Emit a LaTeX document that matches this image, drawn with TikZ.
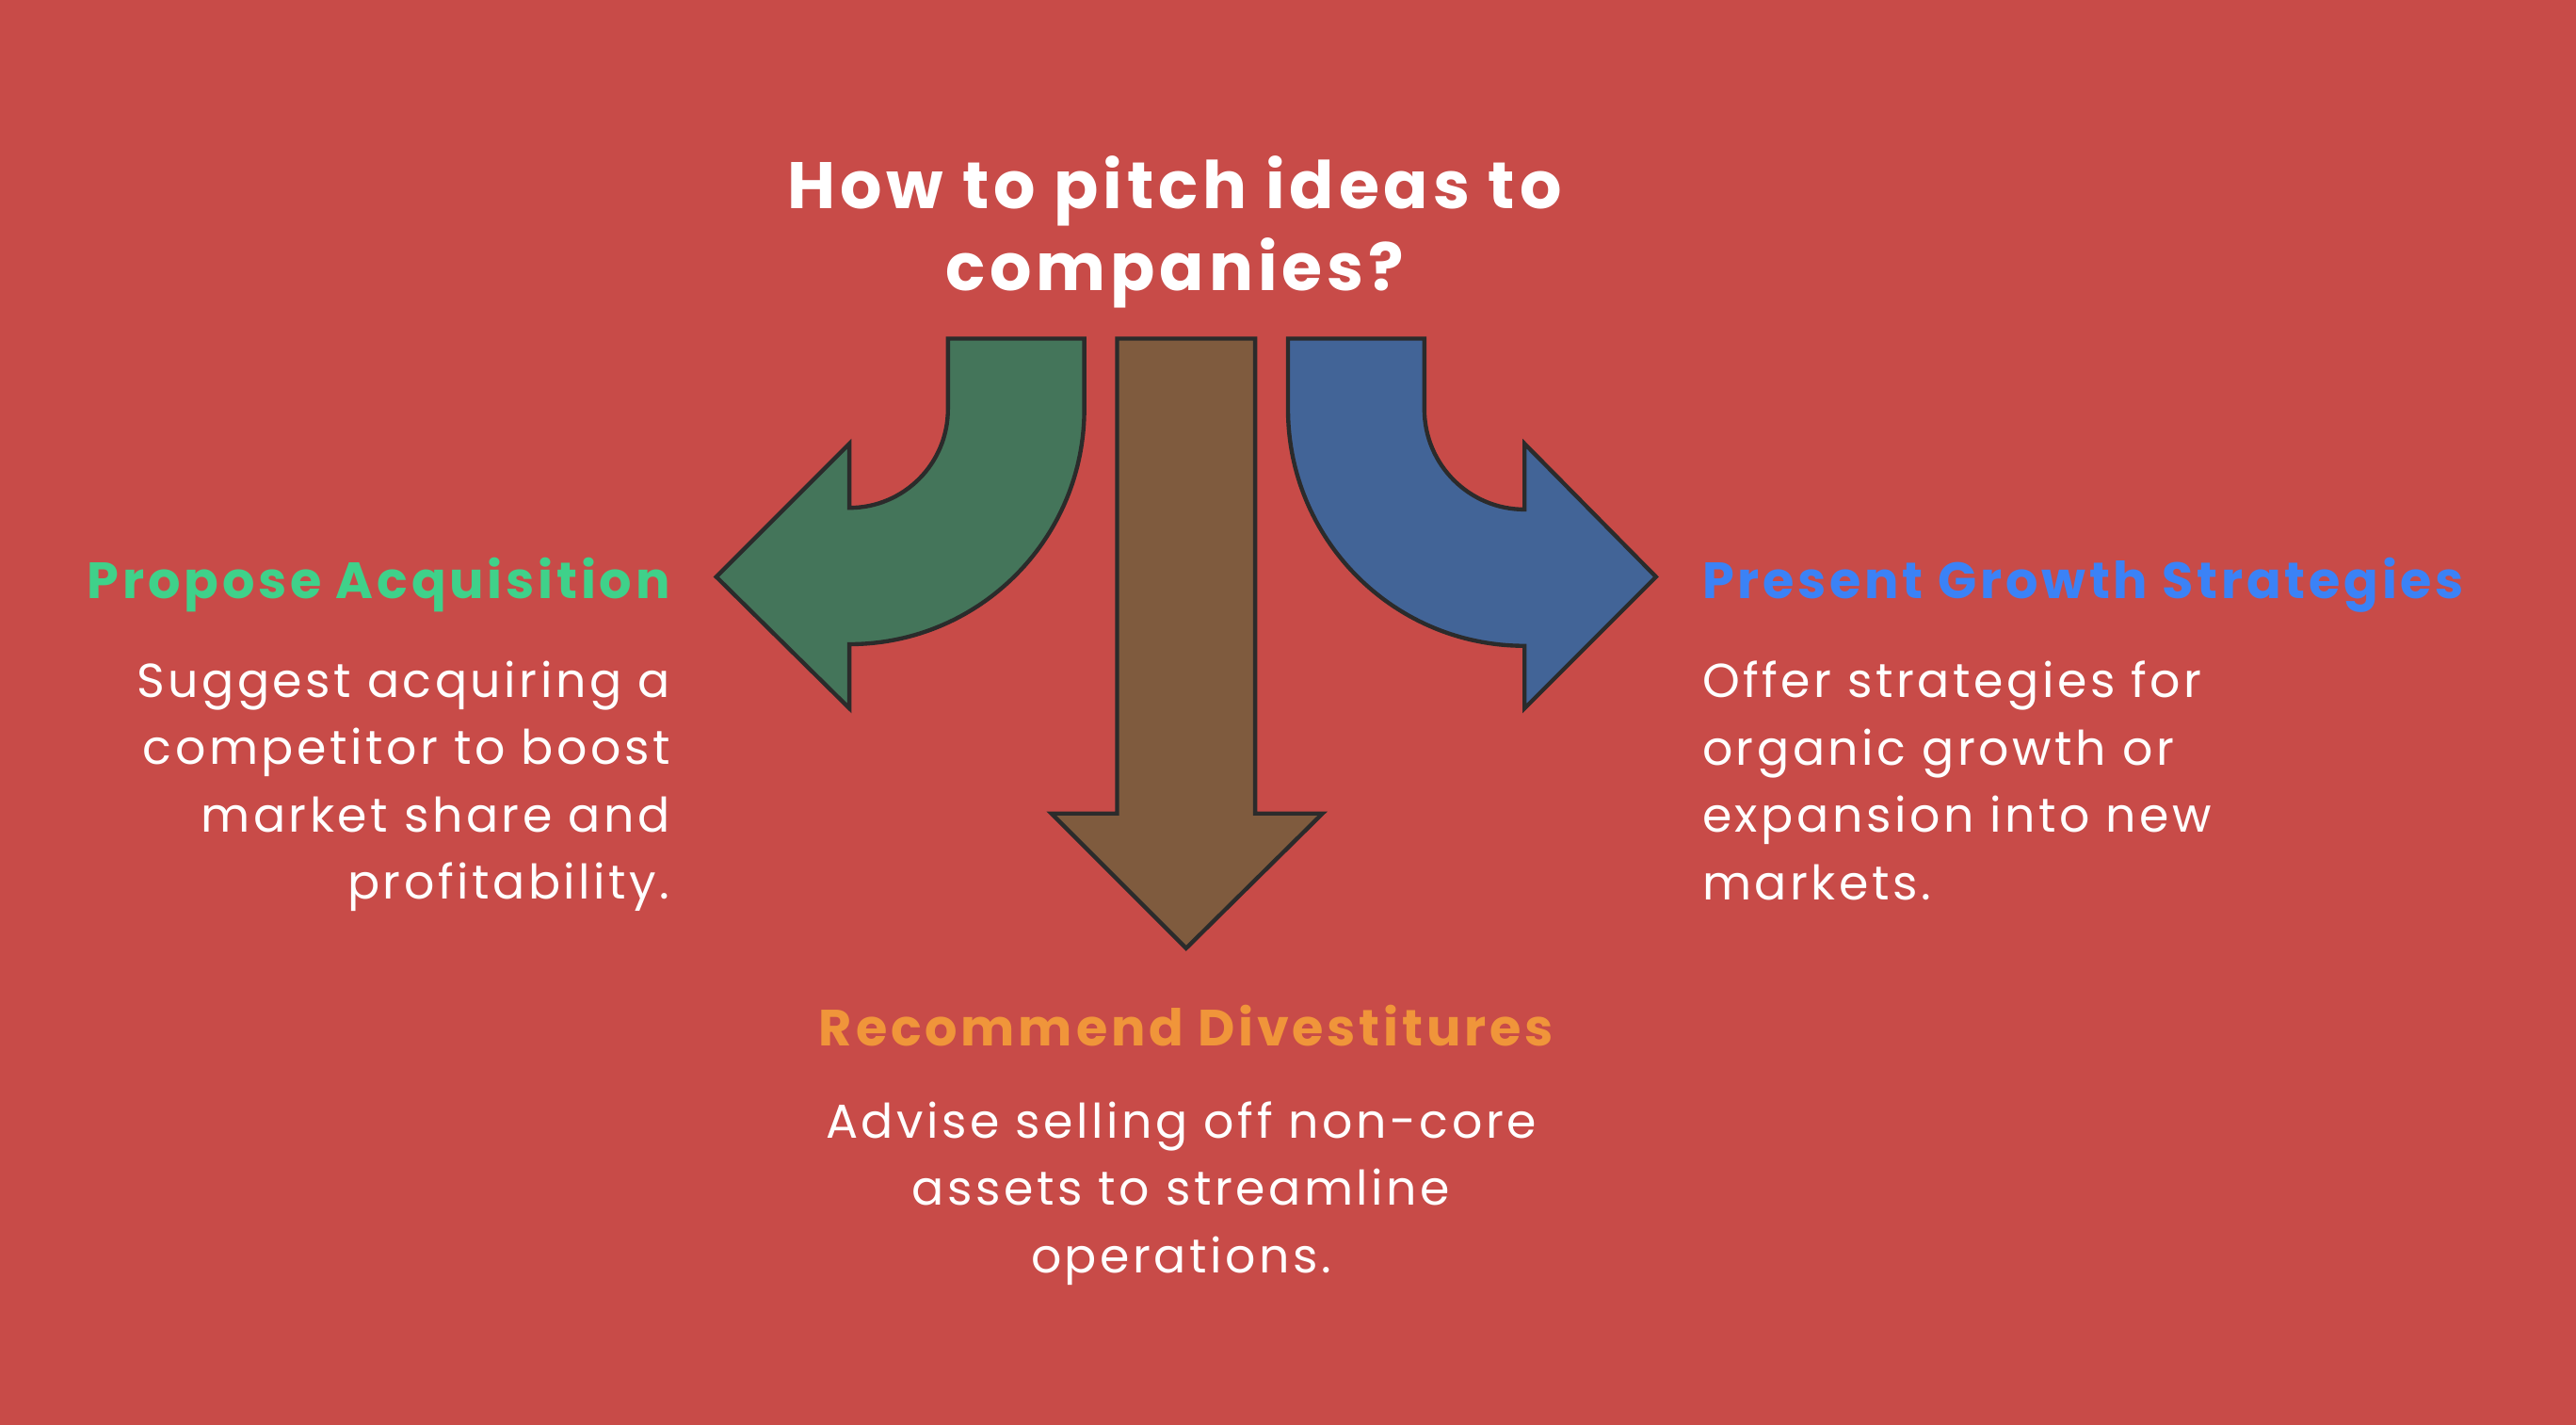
\documentclass[tikz,border=0pt]{standalone}
\usepackage{fontspec}
\setmainfont{Poppins}
\newfontfamily\wide[LetterSpace=7]{Poppins}
\definecolor{bg}{HTML}{C84B48}
\definecolor{ag}{HTML}{44755A}
\definecolor{ab}{HTML}{7F5B3E}
\definecolor{al}{HTML}{426497}
\definecolor{ln}{HTML}{2B2B2B}
\definecolor{tg}{HTML}{3FD18A}
\definecolor{tb}{HTML}{3B82F6}
\definecolor{to}{HTML}{F0953A}
\begin{document}
\begin{tikzpicture}[x=1pt,y=-1pt,
  arr/.style={draw=ln,line width=2.5pt,line join=miter},
  head/.style={font=\wide\fontsize{31}{38}\selectfont\bfseries,inner sep=0pt},
  body/.style={text=white,font=\wide\fontsize{29}{41}\selectfont,inner sep=0pt}]
\fill[bg] (0,0) rectangle (1568,867);
\useasboundingbox (0,0) rectangle (1568,867);
\node[text=white,font=\wide\fontsize{40}{50}\selectfont\bfseries,align=center,inner sep=0pt] (title) at (715,141) {How to pitch ideas to\\companies?};
% brown
\path[arr,fill=ab] (680,206) -- (764,206) -- (764,495) -- (805,495) -- (722,577) -- (640,495) -- (680,495) -- cycle;
% green
\path[arr,fill=ag] (577,206) -- (660,206) -- (660,249) arc[start angle=0,end angle=90,radius=143] -- (517,431) -- (436,351) -- (517,270) -- (517,309) arc[start angle=90,end angle=0,radius=60] -- cycle;
% blue
\path[arr,fill=al] (867,206) -- (784,206) -- (784,249) arc[start angle=180,end angle=90,radius=144] -- (928,431) -- (1008,351) -- (928,270) -- (928,310) arc[start angle=90,end angle=180,radius=61] -- cycle;
\node[head,text=tg,anchor=east] (h1) at (408,356) {Propose Acquisition};
\node[body,align=right,anchor=north east] (b1) at (408,402) {Suggest acquiring a\\competitor to boost\\market share and\\profitability.};
\node[head,text=tb,anchor=west] (h2) at (1036,356) {Present Growth Strategies};
\node[body,align=left,anchor=north west] (b2) at (1036,402) {Offer strategies for\\organic growth or\\expansion into new\\markets.};
\node[head,text=to] (h3) at (722,624) {Recommend Divestitures};
\node[body,align=center,anchor=north] (b3) at (719,670) {Advise selling off non-core\\assets to streamline\\operations.};
\end{tikzpicture}
\end{document}
